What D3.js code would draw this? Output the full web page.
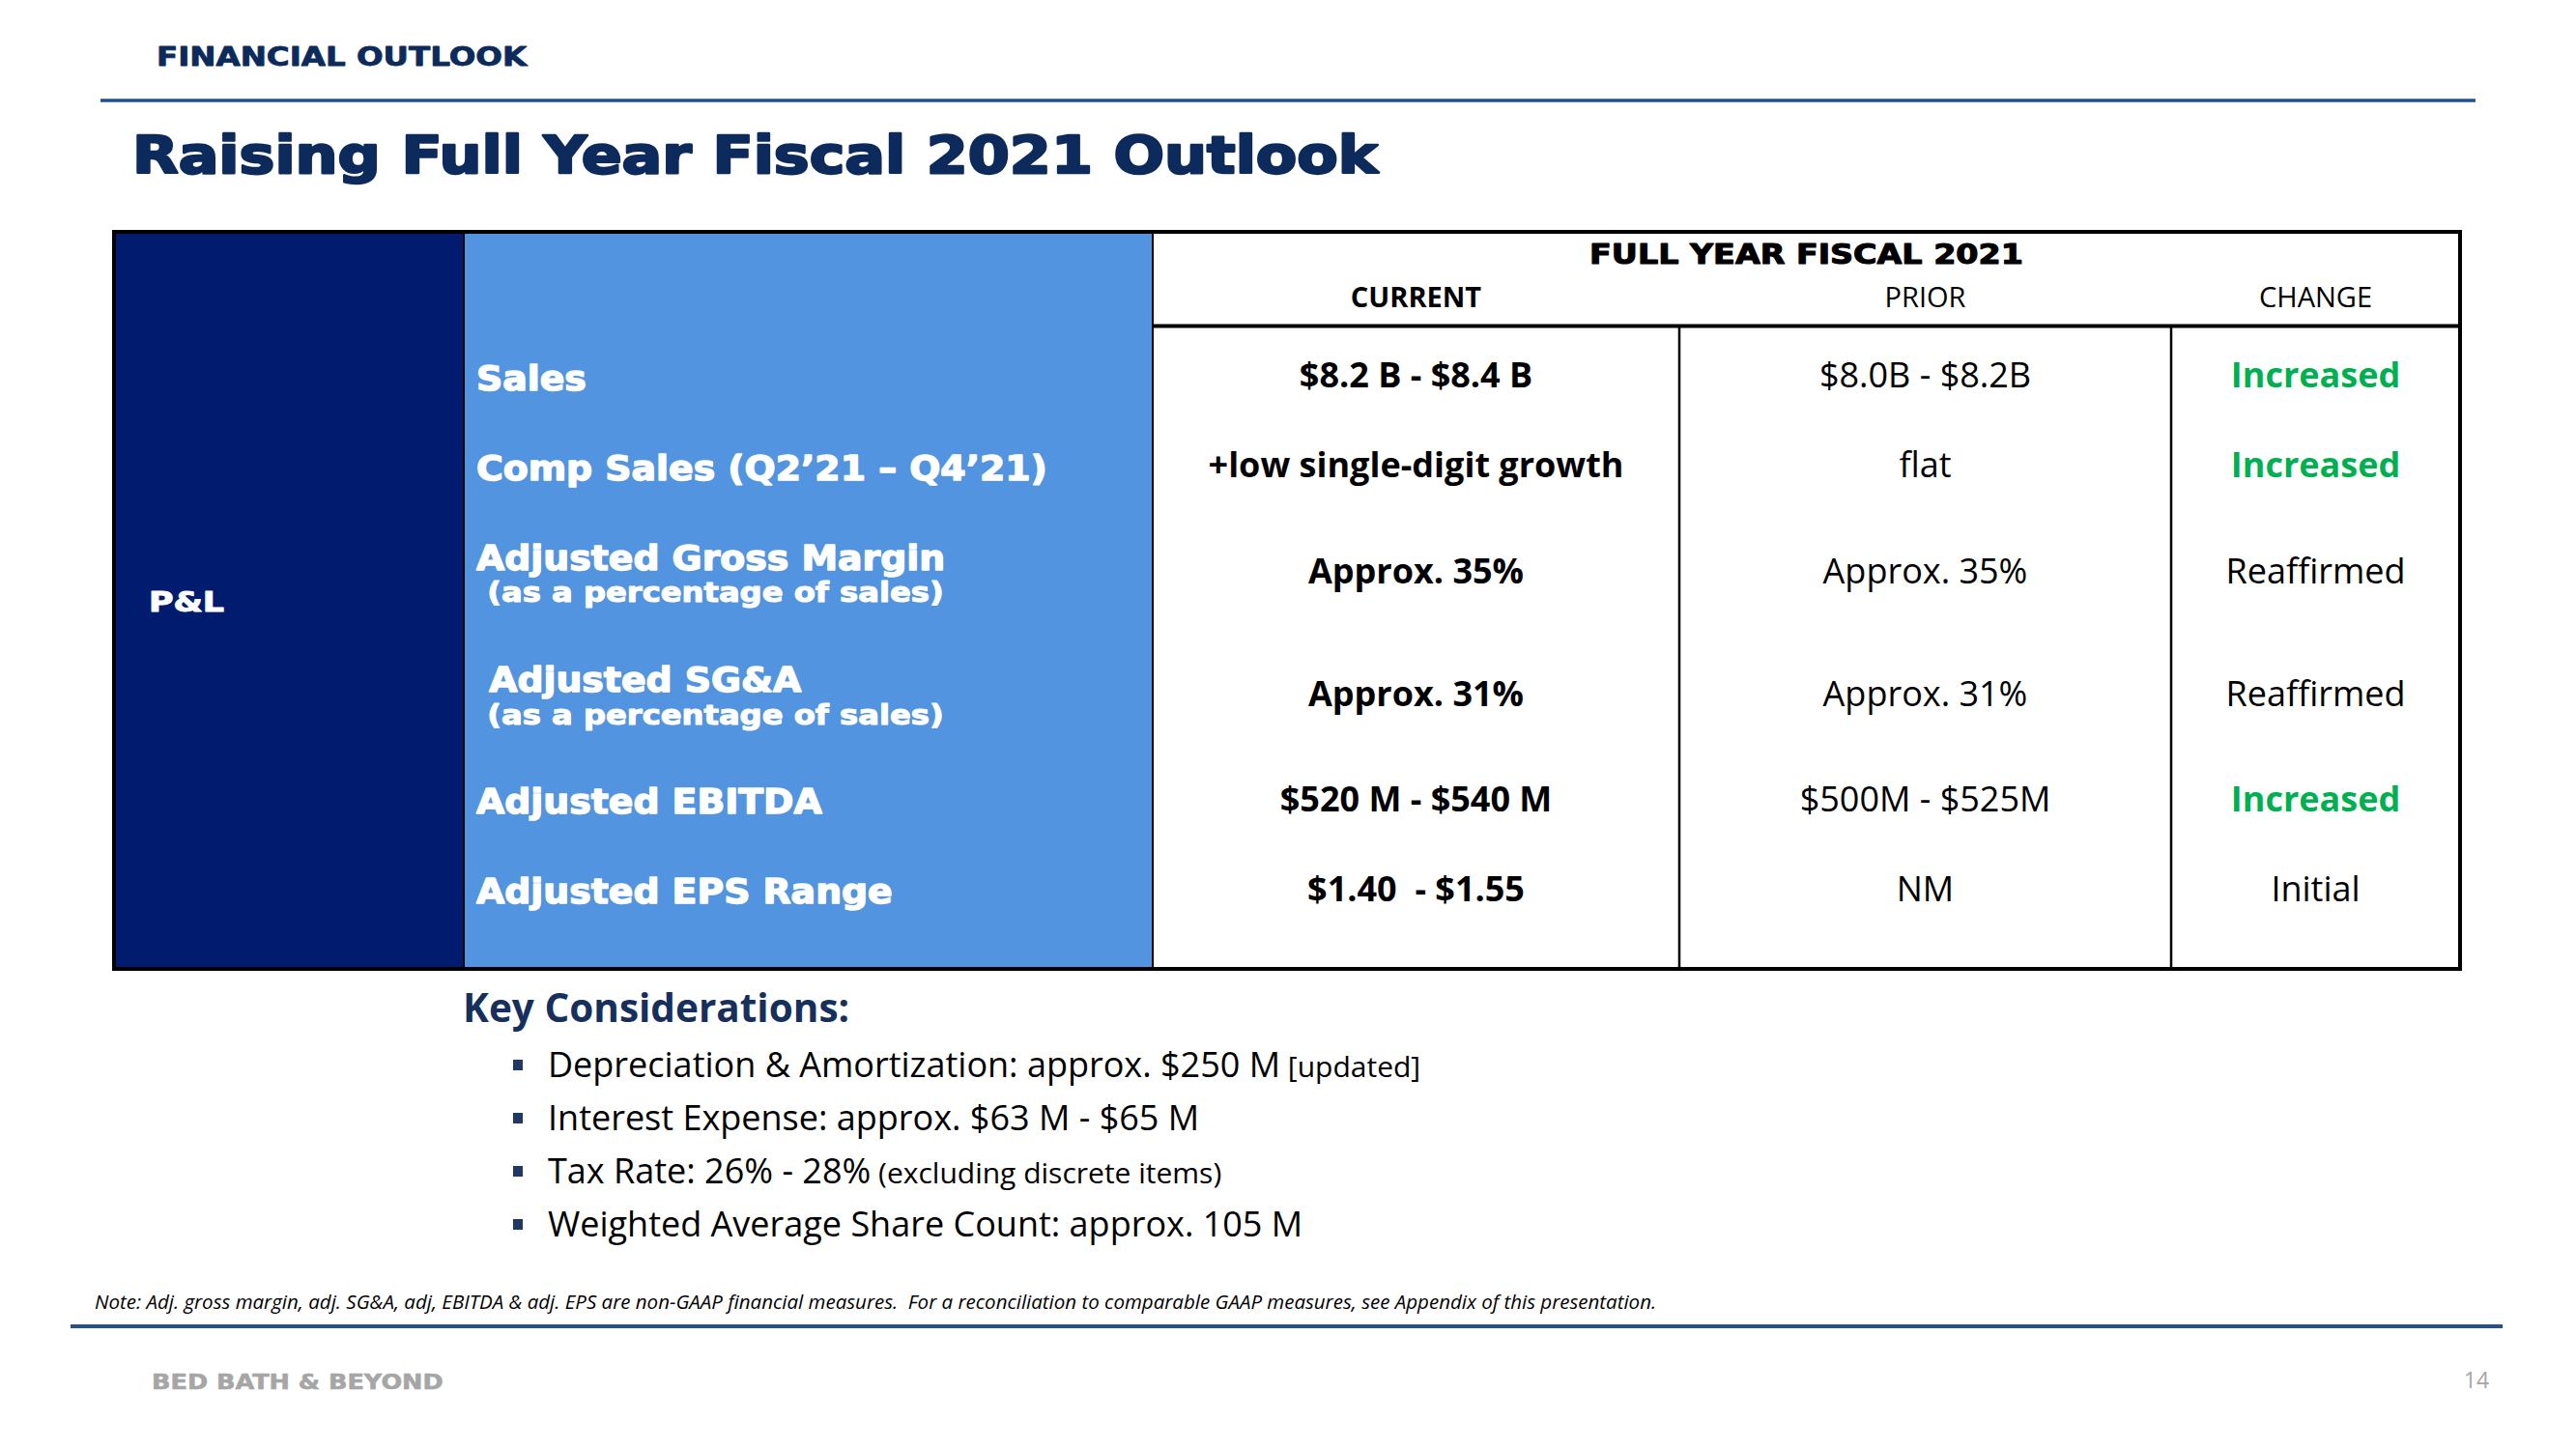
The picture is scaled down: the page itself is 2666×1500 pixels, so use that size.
<!DOCTYPE html>
<html><head><meta charset="utf-8">
<script src="https://cdn.jsdelivr.net/npm/d3@7"></script>
<style>html,body{margin:0;padding:0;background:#fff;} svg{display:block} text{white-space:pre}</style>
</head><body>
<svg id="c" width="2666" height="1500"></svg>
<script>
// ---------------- DATA ----------------
const sectionTag = "FINANCIAL OUTLOOK";
const slideTitle = "Raising Full Year Fiscal 2021 Outlook";
const groupHeader = "FULL YEAR FISCAL 2021";
const sectionLabel = "P&L";
const columnHeaders = ["CURRENT", "PRIOR", "CHANGE"];
const rowLabels = ["Sales", "Comp Sales (Q2’21 – Q4’21)", "Adjusted Gross Margin", " Adjusted SG&A", "Adjusted EBITDA", "Adjusted EPS Range"];
const rowSubLabels = ["", "", " (as a percentage of sales)", " (as a percentage of sales)", "", ""];
const currentValues = ["$8.2 B - $8.4 B", "+low single-digit growth", "Approx. 35%", "Approx. 31%", "$520 M - $540 M", "$1.40  - $1.55"];
const priorValues = ["$8.0B - $8.2B", "flat", "Approx. 35%", "Approx. 31%", "$500M - $525M", "NM"];
const changeValues = ["Increased", "Increased", "Reaffirmed", "Reaffirmed", "Increased", "Initial"];
const considerationsTitle = "Key Considerations:";
const considerationMain = ["Depreciation & Amortization: approx. $250 M", "Interest Expense: approx. $63 M - $65 M", "Tax Rate: 26% - 28%", "Weighted Average Share Count: approx. 105 M"];
const considerationNote = ["[updated]", "", "(excluding discrete items)", ""];
const footNote = "Note: Adj. gross margin, adj. SG&A, adj, EBITDA & adj. EPS are non-GAAP financial measures.  For a reconciliation to comparable GAAP measures, see Appendix of this presentation.";
const brand = "BED BATH & BEYOND";
const pageNumber = "14";

// ---------------- STYLE ----------------
const GEO = "'DejaVu Sans', sans-serif";
const BODY = "'Open Sans', sans-serif";
const NAVY = "#0c2a5b";
const RULE = "#24508c";
const DARKCOL = "#011b6f";
const BLUECOL = "#5294df";
const GREEN = "#00b050";

const svg = d3.select("#c");
function widen(sel, k) {
  sel.each(function () {
    const w = this.getComputedTextLength();
    d3.select(this).attr("textLength", w * k).attr("lengthAdjust", "spacingAndGlyphs");
  });
  return sel;
}
function heavy(sel, color, w) {
  return sel.attr("stroke", color).attr("stroke-width", w).attr("stroke-linejoin", "round").attr("paint-order", "stroke");
}

// ---------------- HEADER ----------------
svg.append("text").attr("x", 162).attr("y", 68)
  .attr("font-family", GEO).attr("font-weight", 700).attr("font-size", 26)
  .attr("fill", NAVY).text(sectionTag).call(widen, 1.25).call(heavy, NAVY, 0.8);
svg.append("line").attr("x1", 104).attr("x2", 2562).attr("y1", 104).attr("y2", 104)
  .attr("stroke", RULE).attr("stroke-width", 3.5);
svg.append("text").attr("x", 137).attr("y", 179)
  .attr("font-family", GEO).attr("font-weight", 700).attr("font-size", 53)
  .attr("fill", NAVY).text(slideTitle).call(widen, 1.167).call(heavy, NAVY, 2.4);

// ---------------- TABLE ----------------
const T = {left: 118, top: 240, right: 2546, bottom: 1003, navyR: 480, blueR: 1193, headLine: 337.5};
svg.append("rect").attr("x", T.left).attr("y", T.top).attr("width", T.navyR - T.left).attr("height", T.bottom - T.top).attr("fill", DARKCOL);
svg.append("rect").attr("x", T.navyR).attr("y", T.top).attr("width", T.blueR - T.navyR).attr("height", T.bottom - T.top).attr("fill", BLUECOL);

// row scale: rows with sub-labels are taller
const rowWeights = rowLabels.map((d, i) => rowSubLabels[i] ? 1.36 : 1);
const rowStarts = [0, ...d3.cumsum(rowWeights)];
const totalW = d3.sum(rowWeights);
const y = d3.scaleLinear().domain([0, totalW]).range([342, 342 + totalW * 93]);
const rowCenter = i => y(rowStarts[i] + rowWeights[i] / 2);

// column scale
const colX = d3.scaleOrdinal().domain(columnHeaders).range([[T.blueR, 1738], [1738, 2247], [2247, T.right]]);
const colCenter = c => d3.mean(colX(c));

// grid lines
svg.append("line").attr("x1", T.navyR).attr("x2", T.navyR).attr("y1", T.top).attr("y2", T.bottom).attr("stroke", "#000").attr("stroke-width", 2);
svg.append("line").attr("x1", T.blueR).attr("x2", T.blueR).attr("y1", T.top).attr("y2", T.bottom).attr("stroke", "#000").attr("stroke-width", 2);
svg.append("line").attr("x1", T.blueR).attr("x2", T.right).attr("y1", T.headLine).attr("y2", T.headLine).attr("stroke", "#000").attr("stroke-width", 4);
svg.selectAll("line.vsep").data(columnHeaders.slice(1)).join("line").attr("class", "vsep")
  .attr("x1", c => colX(c)[0]).attr("x2", c => colX(c)[0])
  .attr("y1", T.headLine).attr("y2", T.bottom).attr("stroke", "#000").attr("stroke-width", 2.5);
svg.append("rect").attr("x", T.left).attr("y", T.top).attr("width", T.right - T.left).attr("height", T.bottom - T.top)
  .attr("fill", "none").attr("stroke", "#000").attr("stroke-width", 4);

// headers
svg.append("text").attr("x", (T.blueR + T.right) / 2).attr("y", 272.5).attr("text-anchor", "middle")
  .attr("font-family", GEO).attr("font-weight", 700).attr("font-size", 28).attr("fill", "#000")
  .text(groupHeader).call(widen, 1.19).call(heavy, "#000", 1.1);
svg.selectAll("text.colhead").data(columnHeaders).join("text").attr("class", "colhead")
  .attr("x", c => colCenter(c)).attr("y", 318).attr("text-anchor", "middle")
  .attr("font-family", BODY).attr("font-size", 29).attr("font-weight", (c, i) => i === 0 ? 700 : 400)
  .attr("fill", "#000").text(c => c);

// section label
svg.append("text").attr("x", 154).attr("y", 633)
  .attr("font-family", GEO).attr("font-weight", 700).attr("font-size", 29).attr("fill", "#fff")
  .text(sectionLabel).call(widen, 1.2).call(heavy, "#fff", 1);

// row labels
const rows = rowLabels.map((d, i) => ({i, label: d, sub: rowSubLabels[i], cur: currentValues[i], prior: priorValues[i], change: changeValues[i]}));
svg.selectAll("text.rowlabel").data(rows).join("text").attr("class", "rowlabel")
  .attr("x", 493).attr("y", d => d.sub ? rowCenter(d.i) - 1.5 : rowCenter(d.i) + 15)
  .attr("font-family", GEO).attr("font-weight", 700).attr("font-size", 35).attr("fill", "#fff")
  .text(d => d.label).call(widen, 1.08).call(heavy, "#fff", 1.4);
svg.selectAll("text.rowsub").data(rows.filter(d => d.sub)).join("text").attr("class", "rowsub")
  .attr("x", 493).attr("y", d => rowCenter(d.i) + 32)
  .attr("font-family", GEO).attr("font-weight", 700).attr("font-size", 29).attr("fill", "#fff")
  .text(d => d.sub).call(widen, 1.11).call(heavy, "#fff", 1.1);

// values
const valueCols = [
  {col: columnHeaders[0], key: "cur", weight: () => 700, color: () => "#000"},
  {col: columnHeaders[1], key: "prior", weight: () => 400, color: () => "#000"},
  {col: columnHeaders[2], key: "change", weight: v => v === "Increased" ? 700 : 400, color: v => v === "Increased" ? GREEN : "#000"}
];
valueCols.forEach(vc => {
  svg.selectAll("text.val-" + vc.key).data(rows).join("text").attr("class", "val-" + vc.key)
    .attr("x", colCenter(vc.col)).attr("y", d => rowCenter(d.i) + 12.9).attr("text-anchor", "middle")
    .attr("font-family", BODY).attr("font-size", 36)
    .attr("font-weight", d => vc.weight(d[vc.key])).attr("fill", d => vc.color(d[vc.key]))
    .text(d => d[vc.key]);
});

// ---------------- KEY CONSIDERATIONS ----------------
svg.append("text").attr("x", 479).attr("y", 1058)
  .attr("font-family", BODY).attr("font-weight", 700).attr("font-size", 40.5).attr("fill", "#172f5c")
  .text(considerationsTitle);
const bulletY = d3.scaleLinear().domain([0, 1]).range([1115, 1170]);
const items = considerationMain.map((m, i) => ({i, m, n: considerationNote[i]}));
svg.selectAll("rect.bullet").data(items).join("rect").attr("class", "bullet")
  .attr("x", 531).attr("y", d => bulletY(d.i) - 18).attr("width", 10).attr("height", 11).attr("fill", "#1f3864");
const lines = svg.selectAll("text.cons").data(items).join("text").attr("class", "cons")
  .attr("x", 567).attr("y", d => bulletY(d.i))
  .attr("font-family", BODY).attr("font-size", 36).attr("fill", "#000");
lines.append("tspan").text(d => d.m);
lines.filter(d => d.n).append("tspan").attr("font-size", 30).text(d => " " + d.n);

// ---------------- FOOTER ----------------
svg.append("text").attr("x", 98).attr("y", 1355)
  .attr("font-family", BODY).attr("font-style", "italic").attr("font-size", 20.5).attr("fill", "#000")
  .text(footNote);
svg.append("line").attr("x1", 73).attr("x2", 2590).attr("y1", 1373).attr("y2", 1373)
  .attr("stroke", RULE).attr("stroke-width", 4);
svg.append("text").attr("x", 157).attr("y", 1438)
  .attr("font-family", GEO).attr("font-weight", 700).attr("font-size", 22).attr("fill", "#a6a6a6")
  .text(brand).call(widen, 1.16).call(heavy, "#a6a6a6", 0.6);
svg.append("text").attr("x", 2563).attr("y", 1437).attr("text-anchor", "middle")
  .attr("font-family", BODY).attr("font-size", 23).attr("fill", "#a6a6a6")
  .text(pageNumber);
</script>
</body></html>
